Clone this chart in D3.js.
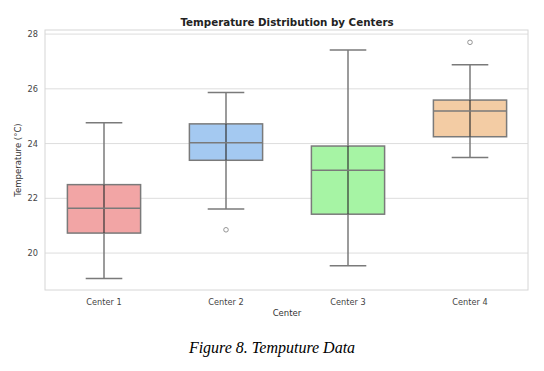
<!DOCTYPE html>
<html><head><meta charset="utf-8">
<script src="https://cdn.jsdelivr.net/npm/d3@7"></script>
<style>body{margin:0;background:#fff}svg{display:block}</style>
</head><body>
<script>
const categories = ["Center 1","Center 2","Center 3","Center 4"];
const whiskerLow  = [19.07, 21.61, 19.54, 23.49];
const q1          = [20.73, 23.39, 21.42, 24.25];
const medians     = [21.64, 24.03, 23.03, 25.19];
const q3          = [22.50, 24.72, 23.91, 25.59];
const whiskerHigh = [24.76, 25.87, 27.42, 26.88];
const outliers    = [[], [20.85], [], [27.70]];
const colors      = ["#f2a5a5","#a4c9f1","#a6f4a4","#f3cca4"];
const yTicks      = [20, 22, 24, 26, 28];

const W = 544, H = 371;
const m = {left:45, right:528, top:30, bottom:290};
const svg = d3.select("body").append("svg").attr("width", W).attr("height", H);

const x = d3.scaleBand().domain(categories).range([43, 531]).paddingInner(0).paddingOuter(0);
const y = d3.scaleLinear().domain([18.65, 28.15]).range([m.bottom, m.top]);

// grid
svg.append("g").selectAll("line").data(yTicks).join("line")
  .attr("x1", m.left).attr("x2", m.right)
  .attr("y1", d => y(d)).attr("y2", d => y(d))
  .attr("stroke", "#dddddd").attr("stroke-width", 1);

// frame
svg.append("rect").attr("x", m.left).attr("y", m.top)
  .attr("width", m.right - m.left).attr("height", m.bottom - m.top)
  .attr("fill", "none").attr("stroke", "#d6d6d6").attr("stroke-width", 1);

// y axis
const yAxis = d3.axisLeft(y).tickValues(yTicks).tickSize(0).tickPadding(7).tickFormat(d3.format("d"));
const gy = svg.append("g").attr("transform", `translate(${m.left},0)`).call(yAxis);
gy.select(".domain").remove();
gy.selectAll("text").attr("font-family", "DejaVu Sans").attr("font-size", 8.2).attr("fill", "#444");

// x axis
const xAxis = d3.axisBottom(x).tickSize(0).tickPadding(9);
const gx = svg.append("g").attr("transform", `translate(0,${m.bottom})`).call(xAxis);
gx.select(".domain").remove();
gx.selectAll("text").attr("font-family", "DejaVu Sans").attr("font-size", 8.2).attr("fill", "#444");

const bw = x.bandwidth() * 0.6;
const cw = bw / 2;
const edge = "#7a7a7a";
const data = categories.map((c, i) => ({c, i}));

const g = svg.append("g").selectAll("g").data(data).join("g");
const cx = d => x(d.c) + x.bandwidth() / 2;

// whiskers
g.append("line").attr("x1", cx).attr("x2", cx)
  .attr("y1", d => y(whiskerLow[d.i])).attr("y2", d => y(q1[d.i]))
  .attr("stroke", edge).attr("stroke-width", 1.5);
g.append("line").attr("x1", cx).attr("x2", cx)
  .attr("y1", d => y(q3[d.i])).attr("y2", d => y(whiskerHigh[d.i]))
  .attr("stroke", edge).attr("stroke-width", 1.5);
// caps
g.append("line").attr("x1", d => cx(d) - cw / 2).attr("x2", d => cx(d) + cw / 2)
  .attr("y1", d => y(whiskerLow[d.i])).attr("y2", d => y(whiskerLow[d.i]))
  .attr("stroke", edge).attr("stroke-width", 1.5);
g.append("line").attr("x1", d => cx(d) - cw / 2).attr("x2", d => cx(d) + cw / 2)
  .attr("y1", d => y(whiskerHigh[d.i])).attr("y2", d => y(whiskerHigh[d.i]))
  .attr("stroke", edge).attr("stroke-width", 1.5);
// boxes
g.append("rect").attr("x", d => cx(d) - bw / 2).attr("width", bw)
  .attr("y", d => y(q3[d.i])).attr("height", d => y(q1[d.i]) - y(q3[d.i]))
  .attr("fill", d => colors[d.i]).attr("stroke", edge).attr("stroke-width", 1.5);
// inner vertical line
g.append("line").attr("x1", cx).attr("x2", cx)
  .attr("y1", d => y(q1[d.i])).attr("y2", d => y(q3[d.i]))
  .attr("stroke", "#333").attr("stroke-width", 1.2);
// median
g.append("line").attr("x1", d => cx(d) - bw / 2).attr("x2", d => cx(d) + bw / 2)
  .attr("y1", d => y(medians[d.i])).attr("y2", d => y(medians[d.i]))
  .attr("stroke", edge).attr("stroke-width", 1.5);
// outliers
g.selectAll("circle").data(d => outliers[d.i].map(v => ({v, d}))).join("circle")
  .attr("cx", o => cx(o.d)).attr("cy", o => y(o.v)).attr("r", 2.3)
  .attr("fill", "none").attr("stroke", "#8a8a8a").attr("stroke-width", 0.9);

// titles
svg.append("text").attr("x", 287).attr("y", 25.5).attr("text-anchor", "middle")
  .attr("font-family", "DejaVu Sans").attr("font-weight", "bold").attr("font-size", 10.3).attr("fill", "#222")
  .text("Temperature Distribution by Centers");
svg.append("text").attr("x", 287).attr("y", 316).attr("text-anchor", "middle")
  .attr("font-family", "DejaVu Sans").attr("font-size", 8.5).attr("fill", "#333").text("Center");
svg.append("text").attr("transform", `translate(21,${(m.top + m.bottom) / 2}) rotate(-90)`)
  .attr("text-anchor", "middle")
  .attr("font-family", "DejaVu Sans").attr("font-size", 8.5).attr("fill", "#333").text("Temperature (°C)");
svg.append("text").attr("x", 272).attr("y", 353).attr("text-anchor", "middle")
  .attr("font-family", "Liberation Serif").attr("font-style", "italic").attr("font-size", 16).attr("fill", "#000")
  .text("Figure 8. Temputure Data");
</script>
</body></html>
